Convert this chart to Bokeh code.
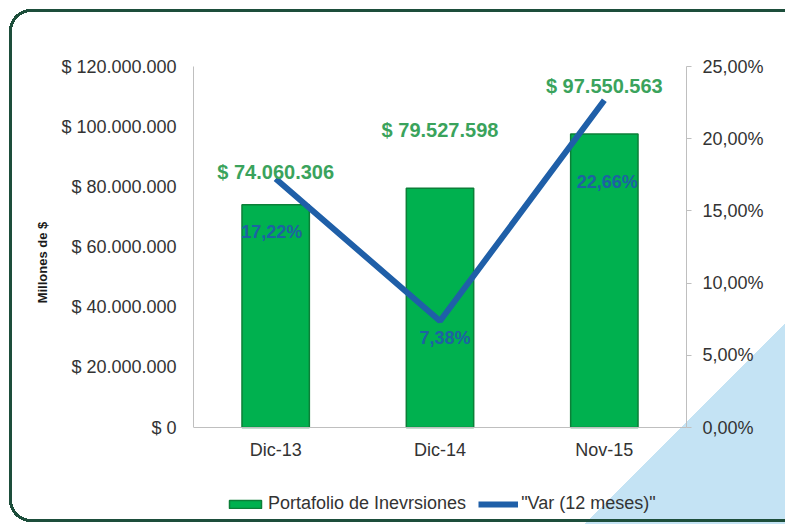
from bokeh.plotting import figure
from bokeh.models import (ColumnDataSource, FactorRange, Range1d, LinearAxis,
                          FixedTicker, Legend, LegendItem, InlineStyleSheet)
from bokeh.core.properties import value
from bokeh.embed import file_html
from bokeh.resources import INLINE

# ---- data ----
categories = ["Dic-13", "Dic-14", "Nov-15"]
portafolio = [74060306, 79527598, 97550563]
variacion = [17.22, 7.38, 22.66]

y_ticks = [0, 20000000, 40000000, 60000000, 80000000, 100000000, 120000000]
y_tick_labels = ["$ 0", "$ 20.000.000", "$ 40.000.000", "$ 60.000.000",
                 "$ 80.000.000", "$ 100.000.000", "$ 120.000.000"]
pct_ticks = [0, 5, 10, 15, 20, 25]
pct_tick_labels = ["0,00%", "5,00%", "10,00%", "15,00%", "20,00%", "25,00%"]

Y_MAX = 120000000
PCT_MAX = 25

# label placement (screen px)
bar_label_dy = [-33, -58, -48]
pct_label_dx = [-4, 5, 3]
pct_label_dy = [53, 17, 82]

FONT = "Liberation Sans"

# layout (px): the plot frame fills the canvas height; value 0 sits at ZERO_Y,
# the axis maximum at TOP
W, H = 785, 524
TOP, ZERO_Y = 66, 427
below_zero = (H - ZERO_Y) / (ZERO_Y - TOP)
above_max = TOP / (ZERO_Y - TOP)

bar_labels = ["$ " + f"{v:,}".replace(",", ".") for v in portafolio]
pct_labels = [f"{v:.2f}%".replace(".", ",") for v in variacion]

bar_src = ColumnDataSource(dict(cat=categories, val=portafolio, lab=bar_labels, dy=bar_label_dy))
pct_src = ColumnDataSource(dict(cat=categories, val=variacion, lab=pct_labels,
                                dx=pct_label_dx, dy=pct_label_dy))

G = "#1d4e3b"
css = InlineStyleSheet(css=f"""
:host {{
  background-color: #ffffff;
  background-image:
    radial-gradient(circle at 22px 22px, transparent 19px, {G} 19px, {G} 22px, transparent 22px),
    radial-gradient(circle at 22px 0px, transparent 19px, {G} 19px, {G} 22px, transparent 22px),
    linear-gradient({G}, {G}),
    linear-gradient({G}, {G}),
    linear-gradient({G}, {G}),
    linear-gradient(135deg, rgba(255,255,255,0) 784px, #c4e3f4 784px);
  background-repeat: no-repeat;
  background-position: 9px 9px, 9px 500px, 31px 9px, 9px 31px, 31px 519px, 0 0;
  background-size: 22px 22px, 22px 22px, 760px 3px, 3px 469px, 760px 3px, 100% 100%;
}}
""")

p = figure(x_range=FactorRange(*categories),
           y_range=Range1d(-Y_MAX * below_zero, Y_MAX * (1 + above_max)),
           width=W, height=H, output_backend="svg", toolbar_location=None,
           min_border_left=193, min_border_right=99, min_border_top=0,
           min_border_bottom=0)
p.stylesheets = [css]
p.border_fill_color = None
p.background_fill_color = None
p.outline_line_color = None
p.xgrid.grid_line_color = None
p.ygrid.grid_line_color = None
p.extra_y_ranges = {"pct": Range1d(-PCT_MAX * below_zero, PCT_MAX * (1 + above_max))}

bars = p.vbar(x="cat", top="val", width=0.41, source=bar_src,
              fill_color="#00b14f", line_color="#0c7f38", line_width=1.5)
line = p.line(x=categories, y=variacion, y_range_name="pct",
              line_color="#1f5fa8", line_width=6)

p.text(x="cat", y="val", text="lab", y_offset="dy", source=bar_src,
       text_align="center", text_baseline="middle",
       text_font=value(FONT), text_font_style="bold", text_font_size="20px",
       text_color="#3aa35c")
p.text(x="cat", y="val", text="lab", x_offset="dx", y_offset="dy", source=pct_src,
       y_range_name="pct", text_align="center", text_baseline="middle",
       text_font=value(FONT), text_font_style="bold", text_font_size="18px",
       text_color="#1d62a3")

# left axis
ya = p.yaxis[0]
ya.bounds = (0, Y_MAX)
ya.ticker = FixedTicker(ticks=y_ticks)
ya.major_label_overrides = dict(zip(y_ticks, y_tick_labels))
ya.axis_line_color = "#bfbfbf"
ya.major_tick_line_color = None
ya.major_tick_out = 0
ya.major_tick_in = 0
ya.minor_tick_line_color = None
ya.major_label_standoff = 17
ya.major_label_text_font = FONT
ya.major_label_text_font_size = "18px"
ya.major_label_text_color = "#333333"
ya.axis_label = "Millones de $"
ya.axis_label_text_font = FONT
ya.axis_label_text_font_style = "bold"
ya.axis_label_text_font_size = "13px"
ya.axis_label_text_color = "#1a1a1a"
ya.axis_label_text_align = "left"
ya.axis_label_standoff = 8

# bottom axis, drawn at value 0
xa = p.xaxis[0]
xa.fixed_location = 0
xa.axis_line_color = "#bfbfbf"
xa.major_tick_line_color = None
xa.major_tick_out = 0
xa.major_tick_in = 0
xa.minor_tick_line_color = None
xa.major_label_standoff = 12
xa.major_label_text_font = FONT
xa.major_label_text_font_size = "18px"
xa.major_label_text_color = "#333333"

# right axis
ra = LinearAxis(y_range_name="pct", ticker=FixedTicker(ticks=pct_ticks),
                major_label_overrides=dict(zip(pct_ticks, pct_tick_labels)),
                bounds=(0, PCT_MAX))
ra.axis_line_color = "#bfbfbf"
ra.major_tick_line_color = "#bfbfbf"
ra.major_tick_out = 5
ra.major_tick_in = 0
ra.minor_tick_line_color = None
ra.major_label_standoff = 11
ra.major_label_text_font = FONT
ra.major_label_text_font_size = "18px"
ra.major_label_text_color = "#333333"
p.add_layout(ra, "right")

legend = Legend(items=[LegendItem(label="Portafolio de Inevrsiones", renderers=[bars]),
                       LegendItem(label='"Var (12 meses)"', renderers=[line])],
                orientation="horizontal", location=(32, 10),
                glyph_width=40, glyph_height=10, label_standoff=3, spacing=12,
                padding=0, margin=0, border_line_color=None,
                background_fill_alpha=0,
                label_text_font=FONT, label_text_font_size="18px",
                label_text_color="#333333")
p.add_layout(legend, "center")

open("out.html", "w").write(file_html(p, INLINE))
